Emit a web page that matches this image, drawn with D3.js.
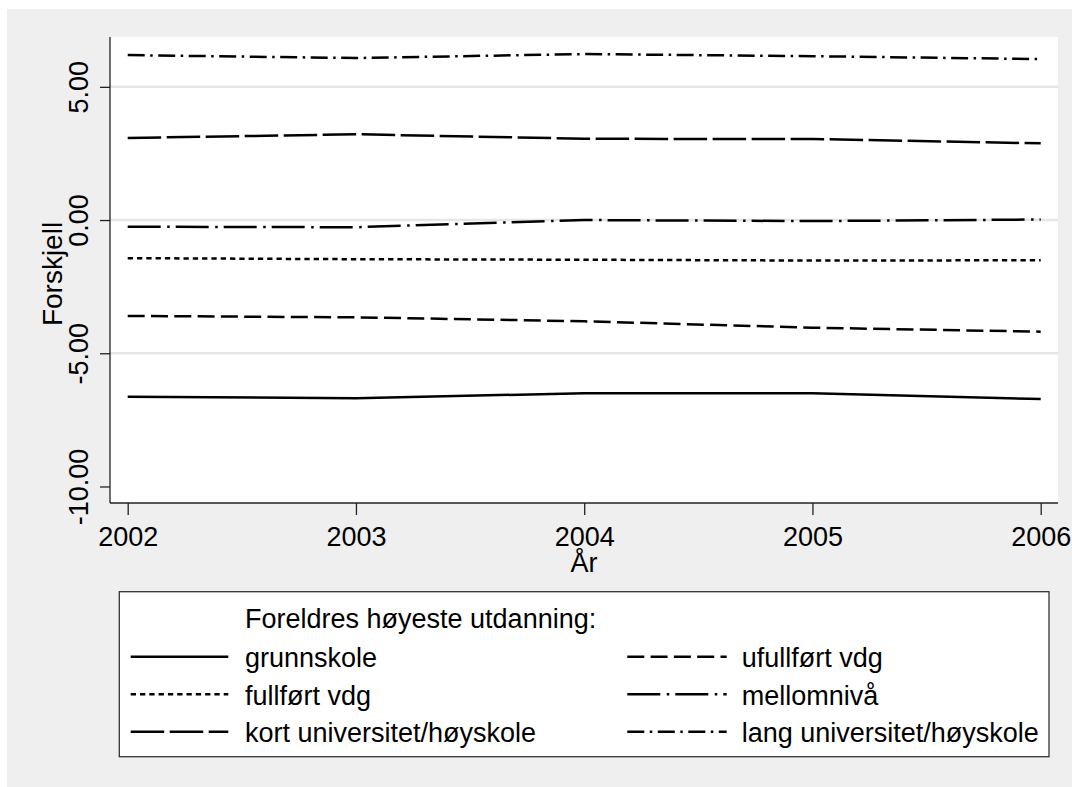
<!DOCTYPE html>
<html>
<head>
<meta charset="utf-8">
<script src="https://cdn.jsdelivr.net/npm/d3@7"></script>
<style>
  html, body { margin: 0; padding: 0; background: #ffffff; }
  svg { display: block; }
  text { font-family: "Liberation Sans", Arial, Helvetica, sans-serif; fill: #000; }
</style>
</head>
<body>
<svg id="chart" width="1072" height="787"></svg>
<script>
// ---- data ----
const years = [2002, 2003, 2004, 2005, 2006];
const seriesNames = [
  "grunnskole",
  "ufullført vdg",
  "fullført vdg",
  "mellomnivå",
  "kort universitet/høyskole",
  "lang universitet/høyskole"
];
const grunnskole   = [-6.63, -6.69, -6.50, -6.50, -6.72];
const ufullfortVdg = [-3.60, -3.65, -3.80, -4.04, -4.19];
const fullfortVdg  = [-1.43, -1.47, -1.49, -1.52, -1.51];
const mellomniva   = [-0.25, -0.27, 0.00, -0.04, 0.02];
const kortUni      = [3.08, 3.22, 3.05, 3.04, 2.88];
const langUni      = [6.19, 6.08, 6.23, 6.15, 6.04];
const yTicks = [-10, -5, 0, 5];
const yGrid = [-5, 0, 5];
const legendTitle = "Foreldres høyeste utdanning:";
const yTitle = "Forskjell";
const xTitle = "År";

// ---- styles ----
const dashes = [
  null,               // solid
  "17,6.3",           // dash
  "5.3,4",            // short dash
  "33,6.5,2.5,6",     // long dash dot
  "33.5,5.5",         // long dash
  "17,5.5,2.5,5.5"    // dash dot
];
const values = [grunnskole, ufullfortVdg, fullfortVdg, mellomniva, kortUni, langUni];

const svg = d3.select("#chart");
const FS = 27;
const fmt2 = v => d3.format(".2f")(v).replace("\u2212", "-");

// background
svg.append("rect").attr("x", 7).attr("y", 9).attr("width", 1072 - 7).attr("height", 787 - 9)
  .attr("fill", "#efefef");

// plot region
const plot = { left: 110, right: 1058, top: 37, bottom: 503 };
svg.append("rect").attr("x", plot.left).attr("y", plot.top)
  .attr("width", plot.right - plot.left).attr("height", plot.bottom - plot.top)
  .attr("fill", "#ffffff");

const x = d3.scaleLinear().domain([2002, 2006]).range([127.7, 1040.7]);
const y = d3.scaleLinear().domain([-10.62, 6.87]).range([plot.bottom, plot.top]);

// gridlines
svg.append("g").selectAll("line").data(yGrid).join("line")
  .attr("x1", plot.left).attr("x2", plot.right)
  .attr("y1", d => y(d)).attr("y2", d => y(d))
  .attr("stroke", "#e6e6e6").attr("stroke-width", 2.5);

// y axis
const yAxis = d3.axisLeft(y).tickValues(yTicks).tickSize(10).tickFormat(fmt2);
const gy = svg.append("g").attr("transform", `translate(${plot.left},0)`).call(yAxis);
gy.select(".domain").attr("d", `M0,${plot.top}V${plot.bottom}`).attr("stroke", "#222").attr("stroke-width", 1.3);
gy.selectAll(".tick line").attr("stroke", "#222").attr("stroke-width", 1.3);
gy.selectAll(".tick text")
  .attr("x", null).attr("dy", null)
  .attr("transform", "translate(-22,0) rotate(-90)")
  .attr("text-anchor", "middle")
  .style("font-size", FS + "px")
  .style("font-family", '"Liberation Sans", Arial, sans-serif');

// x axis
const xAxis = d3.axisBottom(x).tickValues(years).tickSize(12).tickFormat(d3.format("d"));
const gx = svg.append("g").attr("transform", `translate(0,${plot.bottom})`).call(xAxis);
gx.select(".domain").attr("d", `M${plot.left},0H${plot.right}`).attr("stroke", "#222").attr("stroke-width", 1.3);
gx.selectAll(".tick line").attr("stroke", "#222").attr("stroke-width", 1.3);
gx.selectAll(".tick text")
  .attr("y", 42.7).attr("dy", null)
  .style("font-size", FS + "px")
  .style("font-family", '"Liberation Sans", Arial, sans-serif');

// axis titles
svg.append("text").attr("transform", "translate(62,274) rotate(-90)")
  .attr("text-anchor", "middle").style("font-size", "28px").text(yTitle);
svg.append("text").attr("x", (plot.left + plot.right) / 2).attr("y", 572)
  .attr("text-anchor", "middle").style("font-size", FS + "px").text(xTitle);

// lines
const line = d3.line().x((d, i) => x(years[i])).y(d => y(d));
svg.append("g").selectAll("path").data(values).join("path")
  .attr("d", d => line(d))
  .attr("fill", "none").attr("stroke", "#000").attr("stroke-width", 2.5)
  .attr("stroke-linecap", "butt").attr("stroke-linejoin", "round")
  .attr("stroke-dasharray", (d, i) => dashes[i]);

// legend
const lg = svg.append("g");
lg.append("rect").attr("x", 119.3).attr("y", 591.7).attr("width", 1049 - 119.3).attr("height", 756.7 - 591.7)
  .attr("fill", "#fff").attr("stroke", "#333").attr("stroke-width", 1.3);
lg.append("text").attr("x", 245).attr("y", 627.7).style("font-size", FS + "px").text(legendTitle);
const cols = [
  { x1: 130.7, x2: 228.3, tx: 245 },
  { x1: 627.3, x2: 726.7, tx: 741.7 }
];
const rowBase = [667.3, 704.8, 742.3];
seriesNames.forEach((name, i) => {
  const c = cols[i % 2];
  const b = rowBase[Math.floor(i / 2)];
  lg.append("line").attr("x1", c.x1).attr("x2", c.x2).attr("y1", b - 10.5).attr("y2", b - 10.5)
    .attr("stroke", "#000").attr("stroke-width", 2.5).attr("stroke-dasharray", dashes[i]);
  lg.append("text").attr("x", c.tx).attr("y", b).style("font-size", FS + "px").text(name);
});
</script>
</body>
</html>
